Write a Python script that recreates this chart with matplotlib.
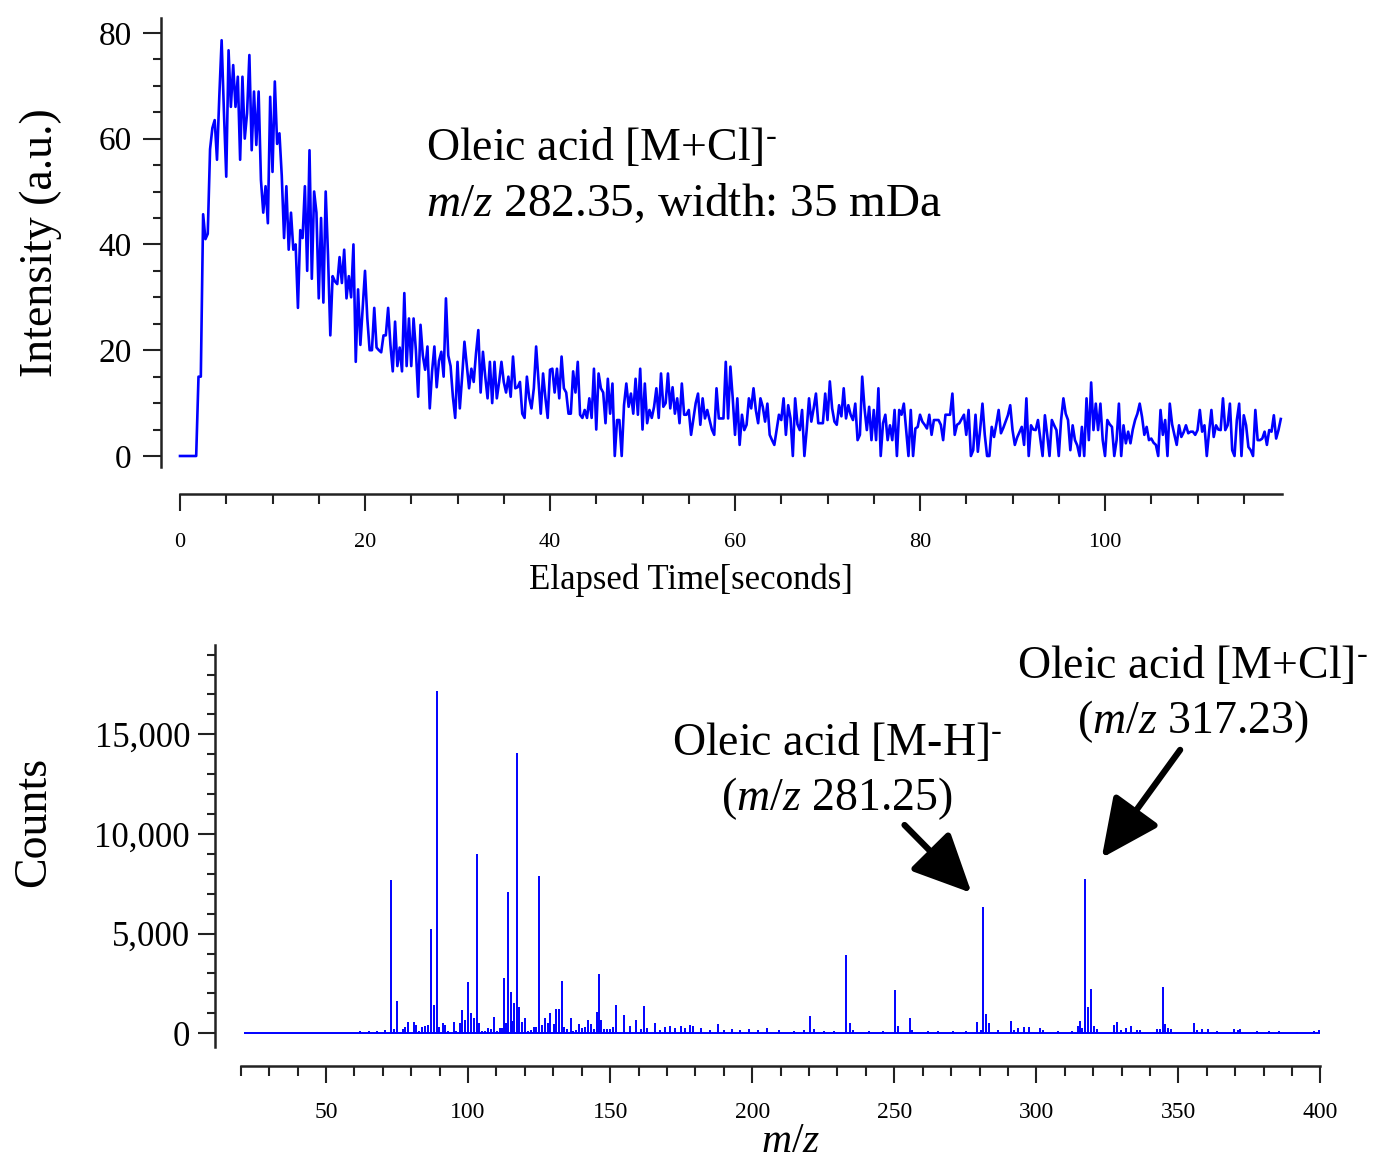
import matplotlib
matplotlib.use("Agg")
import matplotlib.pyplot as plt
from matplotlib.ticker import MultipleLocator
import numpy as np

plt.rcParams['font.family'] = ['Liberation Serif', 'DejaVu Serif']
plt.rcParams['mathtext.fontset'] = 'custom'
plt.rcParams['mathtext.rm'] = 'Liberation Serif'
plt.rcParams['mathtext.it'] = 'Liberation Serif:italic'

# ---------------------------------------------------------------
# Data: ion intensity of m/z 282.35 vs elapsed time (0.25 s steps)
# ---------------------------------------------------------------
dt = 0.25
intensity = [
    0, 0, 0, 0, 0, 0, 0, 0, 15, 15, 45.7, 41, 42, 58, 62, 63.5, 56, 68, 78.6, 65,
    52.8, 76.7, 66, 73.9, 66, 71.7, 56, 71.7, 60, 64.8, 75.8, 57.8, 68.9, 58.8, 68.9, 52.2, 46, 51, 44, 67.9,
    53.7, 70.8, 59, 61, 53, 41.2, 51, 39, 46, 39, 40, 28, 42.7, 41.2, 51, 35, 57.8, 33.5, 50, 46,
    29.8, 45, 29, 50, 38, 22.8, 34, 33, 32.5, 37.6, 32.7, 39, 29.8, 34, 30, 40, 17.8, 31.5, 21, 28,
    35, 26, 20, 20, 28, 20.5, 20, 19.6, 22.8, 22.8, 28, 21, 16, 25.4, 17, 20.5, 16, 30.8, 17, 26,
    17, 26, 20, 11.2, 24.8, 19, 16.3, 20.7, 9, 16, 20.7, 13, 18, 19.7, 15, 29.8, 19, 17, 11.2, 7.2,
    17.8, 9, 15, 21.6, 17.2, 12.8, 16.5, 14, 19.4, 23.8, 12, 19.7, 15, 10.9, 17.8, 10, 17.8, 10.9, 14, 17.8,
    14, 12, 15, 11.2, 18.8, 12.8, 13, 14, 8, 7.2, 15, 11, 9, 12.8, 20.7, 14.4, 8, 15.6, 11, 7.2,
    16.3, 16.5, 12, 16.5, 10.9, 18.8, 12.8, 12, 8, 8, 16, 12, 17.8, 7.8, 7.2, 8.7, 7.2, 10.9, 7.2, 16.5,
    5, 15.6, 12.8, 12, 6.2, 14.6, 8, 13.7, 0, 6.8, 6.8, 0, 9.6, 13.7, 9.3, 11.8, 8, 14.6, 7.8, 16.5,
    5, 13.7, 6.2, 8.7, 7.2, 9.3, 12.8, 7.2, 15.6, 9.3, 10, 15.6, 9, 13, 8, 10.9, 6.2, 13.7, 7.8, 7.8,
    8.7, 4, 7, 10, 11.8, 5.9, 10.9, 7.1, 8.7, 6.8, 5, 4, 12.8, 7.1, 7.1, 7.1, 17.8, 7.1, 16.9, 11,
    4, 10.9, 2.1, 7.8, 4.9, 5.9, 10.9, 9, 12.8, 8.7, 6.2, 10.9, 9.3, 6.5, 9.9, 4, 3, 2.1, 5, 7.8,
    6.8, 10.9, 4, 9.6, 7.1, 0, 10.9, 6, 4.9, 8.7, 0, 5, 10.9, 6.5, 9, 11.8, 6.2, 6.2, 6.2, 11.8,
    6.8, 14.1, 9, 6.5, 5.9, 9.6, 7.5, 12.8, 7.1, 9.6, 7.8, 6.8, 9.9, 3, 4, 15, 9, 4.9, 9.3, 3,
    8.7, 3, 12.8, 0, 6.2, 7.8, 3, 5.8, 3, 8.7, 0, 8.7, 7.8, 9.9, 5, 0, 8.7, 0, 5.2, 5.5,
    7.8, 6.5, 5.9, 5.2, 7.8, 4, 6.8, 6.8, 6.8, 5.9, 3, 7.8, 7.8, 7.8, 11.8, 4, 5.9, 6.2, 7, 7.8,
    4, 8.7, 0, 1.1, 7.8, 0.8, 5, 9.9, 4, 0, 0, 5.5, 3.6, 6, 8.7, 4.3, 5.3, 6.5, 7.7, 9.6,
    4.9, 2.1, 3.5, 4.5, 5.5, 2.1, 10.9, 0, 5.8, 5, 4.9, 6.8, 3.3, 0, 7.7, 4, 0, 6.8, 5.8, 4.9,
    0, 6.8, 10.9, 8, 6.8, 1.1, 5.8, 3, 2, 0, 5.5, 0, 10.9, 3, 13.9, 4.9, 9.9, 4.9, 9.9, 3,
    0, 6.8, 6, 5.5, 0, 3, 9.9, 0, 5.8, 2.4, 4.6, 2.4, 5, 6.8, 8, 9.9, 7.4, 4, 5.5, 3,
    3.3, 2.5, 2.1, 0, 8.7, 4, 6.8, 0, 9.9, 6, 4, 2.1, 5.8, 3.6, 4.5, 5.8, 4.3, 4.6, 4.6, 4,
    4.9, 8.7, 4.6, 5.8, 0, 4.6, 8.7, 3.6, 5.8, 5, 4.9, 10.9, 4.9, 5.8, 9.9, 1.1, 0, 6.8, 9.9, 0,
    7.7, 5.8, 1.7, 1.1, 0, 8.7, 3, 3, 3.3, 4.6, 2.1, 4.9, 4.6, 7.7, 3.3, 4.9, 7,
]
time = np.arange(len(intensity)) * dt

# ---------------------------------------------------------------
# Data: mass spectrum peaks (m/z, counts)
# ---------------------------------------------------------------
mz_range = [21, 400]
mz = [62.0, 65.0, 67.9, 70.9, 72.9, 73.9, 75.0, 77.1, 77.9, 79.0, 80.9, 81.8, 82.9, 83.8, 84.9,
      86.0, 87.0, 88.0, 88.9, 89.9, 91.0, 92.0, 93.1, 95.2, 95.9, 97.0, 98.0, 99.0, 100.0, 101.1,
      102.1, 103.0, 104.0, 105.0, 106.1, 107.1, 108.0, 109.1, 110.1, 111.1, 112.1, 112.8, 113.3,
      113.9, 115.0, 115.4, 116.0, 117.1, 118.0, 119.1, 120.1, 121.2, 122.0, 123.1, 124.0, 125.1,
      126.1, 127.2, 128.1, 129.0, 130.1, 131.0, 132.0, 133.0, 133.9, 134.9, 136.1, 137.0, 138.1,
      139.0, 140.1, 141.0, 142.1, 143.2, 144.2, 145.2, 145.9, 146.9, 147.9, 149.0, 150.0, 151.1,
      152.2, 154.9, 157.0, 159.1, 160.8, 161.9, 163.1, 165.9, 167.5, 169.2, 171.0, 172.7, 175.0,
      176.2, 178.0, 179.0, 182.0, 185.0, 187.8, 190.2, 192.9, 195.8, 199.0, 202.1, 205.1, 209.5,
      214.7, 218.2, 220.3, 221.7, 225.2, 228.7, 233.1, 234.3, 235.6, 241.0, 246.2, 250.1, 251.3,
      255.5, 256.2, 262.0, 265.5, 270.7, 275.1, 279.1, 280.4, 281.25, 282.3, 283.3, 286.5, 291.2,
      292.2, 293.5, 295.6, 297.5, 301.4, 302.2, 307.5, 312.7, 314.5, 315.4, 316.2, 317.23, 318.3,
      319.2, 320.3, 321.5, 327.3, 328.5, 329.9, 331.5, 333.4, 335.5, 336.4, 342.5, 343.4, 344.4,
      345.3, 346.4, 347.4, 355.5, 356.5, 358.2, 360.5, 363.5, 369.6, 370.8, 371.7, 377.5, 381.9,
      385.4, 391.6, 397.7, 399.4]
counts = [120, 100, 130, 170, 7680, 200, 1620, 200, 300, 550, 550, 420, 100, 340, 350,
          430, 5220, 1400, 17160, 300, 500, 430, 100, 550, 130, 500, 1170, 680, 2560, 1040,
          750, 8980, 500, 100, 100, 250, 200, 800, 100, 250, 250, 2780, 500,
          7080, 2070, 600, 1540, 14050, 1330, 580, 750, 100, 170, 300, 340, 7900,
          400, 770, 500, 1010, 470, 1240, 1240, 2600, 300, 200, 770, 100, 170,
          480, 250, 340, 680, 470, 200, 1090, 2960, 650, 200, 200, 200, 300,
          1400, 930, 350, 650, 230, 1355, 270, 520, 180, 300, 380, 280, 350,
          280, 400, 350, 250, 180, 480, 150, 230, 150, 230, 150, 250, 150,
          120, 150, 890, 200, 100, 100, 3930, 520, 180, 100, 100, 2190, 350,
          770, 150, 100, 100, 100, 120, 570, 150, 6350, 955, 520, 150, 620,
          150, 250, 300, 300, 250, 150, 100, 100, 370, 600, 250, 7750, 1320,
          2245, 350, 200, 430, 550, 150, 250, 380, 150, 150, 230, 230, 2300,
          490, 250, 230, 520, 150, 200, 200, 100, 200, 150, 200, 100, 120,
          120, 80, 120, 150]

blue = '#0000ff'
dark = '#222222'

fig = plt.figure(figsize=(13.74, 11.68), dpi=100)
W, H = 1374, 1168

# ---------------------------------------------------------------
# Top panel: extracted ion chronogram
# ---------------------------------------------------------------
ax1 = fig.add_axes([161 / W, 1 - 467 / H, (1283 - 161) / W, (467 - 18) / H])
ax1.plot(time, intensity, color=blue, lw=1.9)
ax1.set_xlim(-2.054, 119.24)
ax1.set_ylim(-2.08, 82.8)
ax1.spines['top'].set_visible(False)
ax1.spines['right'].set_visible(False)
ax1.spines['bottom'].set_position(('outward', 19.5))
ax1.spines['bottom'].set_bounds(0, 119.1)
for s in ('left', 'bottom'):
    ax1.spines[s].set_linewidth(1.8)
    ax1.spines[s].set_color(dark)
ax1.xaxis.set_major_locator(MultipleLocator(20))
ax1.xaxis.set_minor_locator(MultipleLocator(5))
ax1.yaxis.set_major_locator(MultipleLocator(20))
ax1.yaxis.set_minor_locator(MultipleLocator(5))
ax1.tick_params(axis='y', which='major', length=13, width=1.5, color=dark, labelsize=24, pad=8)
ax1.tick_params(axis='y', which='minor', length=6, width=1.5, color=dark)
ax1.tick_params(axis='x', which='major', length=12, width=1.5, color=dark, labelsize=16, pad=16)
ax1.tick_params(axis='x', which='minor', length=7, width=1.5, color=dark)
ax1.set_ylabel('Intensity (a.u.)', fontsize=33, labelpad=26)
ax1.set_xlabel('Elapsed Time[seconds]', fontsize=25, labelpad=8, x=0.472)
ax1.text(26.6, 56, r'Oleic acid [M+Cl]$^{\text{-}}$', fontsize=33, va='baseline')
ax1.text(26.6, 45.4, r'$\mathit{m/z}$ 282.35, width: 35 mDa', fontsize=34, va='baseline')

# ---------------------------------------------------------------
# Bottom panel: mass spectrum
# ---------------------------------------------------------------
ax2 = fig.add_axes([215 / W, 1 - 1047 / H, (1322 - 215) / W, (1047 - 645) / H])
ax2.hlines(0, mz_range[0], mz_range[1], color=blue, lw=1.4)
ax2.vlines(mz, 0, counts, color=blue, lw=1.4)
ax2.set_xlim(10.93, 400.53)
ax2.set_ylim(-688, 19483)
ax2.spines['top'].set_visible(False)
ax2.spines['right'].set_visible(False)
ax2.spines['bottom'].set_position(('outward', 13.5))
ax2.spines['bottom'].set_bounds(20, 400)
for s in ('left', 'bottom'):
    ax2.spines[s].set_linewidth(1.8)
    ax2.spines[s].set_color(dark)
ax2.xaxis.set_major_locator(MultipleLocator(50))
ax2.xaxis.set_minor_locator(MultipleLocator(10))
ax2.yaxis.set_major_locator(MultipleLocator(5000))
ax2.yaxis.set_minor_locator(MultipleLocator(1000))
ax2.yaxis.set_major_formatter(plt.FuncFormatter(lambda v, p: f'{int(v):,}'))
ax2.tick_params(axis='y', which='major', length=12, width=1.5, color=dark, labelsize=25, pad=6)
ax2.tick_params(axis='y', which='minor', length=6, width=1.5, color=dark)
ax2.tick_params(axis='x', which='major', length=12, width=1.5, color=dark, labelsize=17, pad=14)
ax2.tick_params(axis='x', which='minor', length=7, width=1.5, color=dark)
ax2.set_ylabel('Counts', fontsize=33, labelpad=28, y=0.56)
ax2.set_xlabel(r'$\mathit{m/z}$', fontsize=30, labelpad=0, x=0.52)

ax2.text(229.9, 13960, r'Oleic acid [M-H]$^{\text{-}}$', fontsize=33, ha='center', va='baseline')
ax2.text(229.9, 11210, r'($\mathit{m/z}$ 281.25)', fontsize=33, ha='center', va='baseline')
ax2.text(355, 17830, r'Oleic acid [M+Cl]$^{\text{-}}$', fontsize=33, ha='center', va='baseline')
ax2.text(355, 15070, r'($\mathit{m/z}$ 317.23)', fontsize=33, ha='center', va='baseline')

arrow = dict(arrowstyle='-|>,head_length=1.8,head_width=0.85', lw=4.5, color='black',
             shrinkA=0, shrinkB=0, mutation_scale=20)
ax2.annotate('', xy=(277.2, 7040), xytext=(253.6, 10450), arrowprops=arrow)
ax2.annotate('', xy=(323.0, 8800), xytext=(350.6, 14220), arrowprops=arrow)

fig.savefig('out.png', dpi=100)
